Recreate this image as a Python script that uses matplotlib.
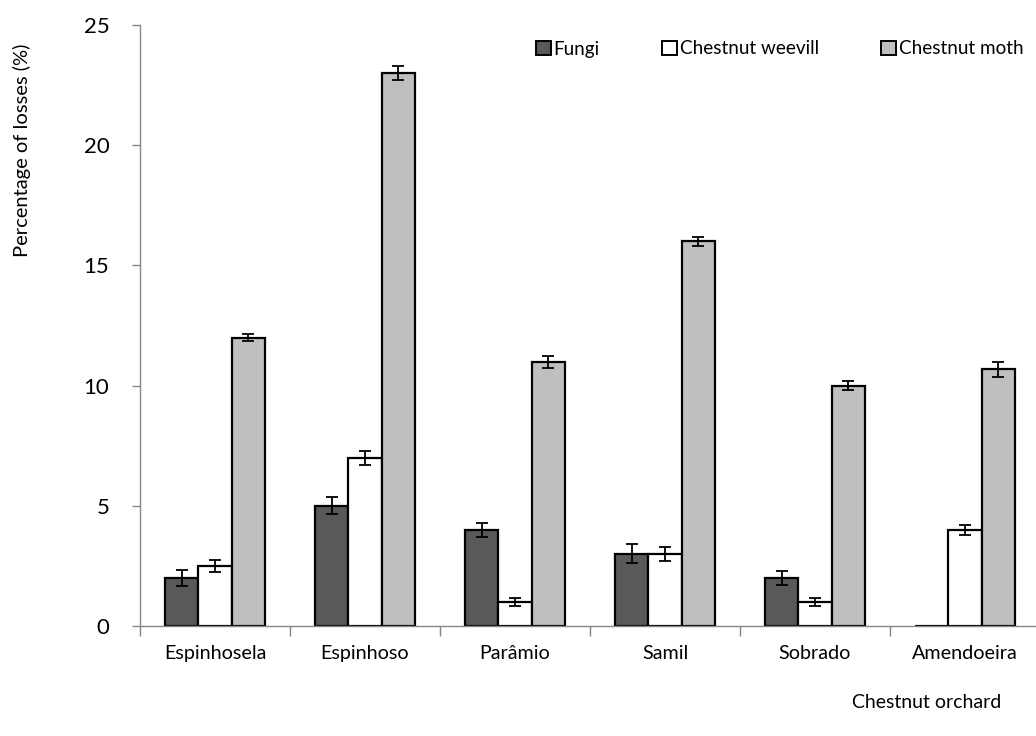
import matplotlib.pyplot as plt
import numpy as np

plt.rcParams['font.family'] = ['Lato', 'DejaVu Sans']

# orchards and the three causes of loss
orchards = ['Espinhosela', 'Espinhoso', 'Parâmio', 'Samil', 'Sobrado', 'Amendoeira']
fungi = [2.0, 5.0, 4.0, 3.0, 2.0, 0.0]
fungi_err = [0.32, 0.35, 0.3, 0.4, 0.3, 0.0]
weevil = [2.5, 7.0, 1.0, 3.0, 1.0, 4.0]
weevil_err = [0.26, 0.3, 0.15, 0.3, 0.17, 0.22]
moth = [12.0, 23.0, 11.0, 16.0, 10.0, 10.67]
moth_err = [0.15, 0.28, 0.25, 0.2, 0.2, 0.3]

fig = plt.figure(figsize=(10.36, 7.36), dpi=100)
ax = fig.add_axes([140 / 1036, 110 / 736, 900 / 1036, 601 / 736])

x = np.arange(len(orchards))
w = 0.2233
err_kw = dict(ecolor='black', elinewidth=1.3, capsize=4.3, capthick=1.3)

b1 = ax.bar(x - w, fungi, w, yerr=[e if e > 0 else np.nan for e in fungi_err],
            color='#595959', edgecolor='black', linewidth=1.6, error_kw=err_kw, label='Fungi')
b2 = ax.bar(x, weevil, w, yerr=weevil_err,
            color='white', edgecolor='black', linewidth=1.6, error_kw=err_kw, label='Chestnut weevill')
b3 = ax.bar(x + w, moth, w, yerr=moth_err,
            color='#BFBFBF', edgecolor='black', linewidth=1.6, error_kw=err_kw, label='Chestnut moth')

ax.set_xlim(-0.5, len(orchards) - 0.5)
ax.set_ylim(0, 25)
ax.set_yticks([0, 5, 10, 15, 20, 25])
ax.set_xticks(x)
ax.set_xticklabels(orchards, fontsize=14.2)
ax.set_xticks(np.arange(-0.5, len(orchards), 1.0), minor=True)
ax.tick_params(axis='x', which='major', length=0, pad=14)
ax.tick_params(axis='x', which='minor', length=7, color='#868686', width=1)
ax.tick_params(axis='y', length=6, color='#868686', width=1, labelsize=16, pad=16)

for s in ['top', 'right']:
    ax.spines[s].set_visible(False)
for s in ['left', 'bottom']:
    ax.spines[s].set_color('#868686')
    ax.spines[s].set_linewidth(1)

fig.text(22 / 1036, 1 - 150 / 736, 'Percentage of losses (%)', rotation=90,
         ha='center', va='center', fontsize=14.5)
fig.text(927 / 1036, 1 - 702 / 736, 'Chestnut orchard', ha='center', va='center', fontsize=14)

leg = ax.legend(handles=[b1, b2, b3], ncol=3, loc='center left',
                bbox_to_anchor=(536 / 1036, 1 - 49 / 736), bbox_transform=fig.transFigure,
                frameon=False, fontsize=13.6, handlelength=0.78, handleheight=0.78,
                handletextpad=0.15, columnspacing=3.3, borderaxespad=0, borderpad=0)
for h in leg.legend_handles:
    h.set_linewidth(1.4)

fig.savefig('out.png', dpi=100)
